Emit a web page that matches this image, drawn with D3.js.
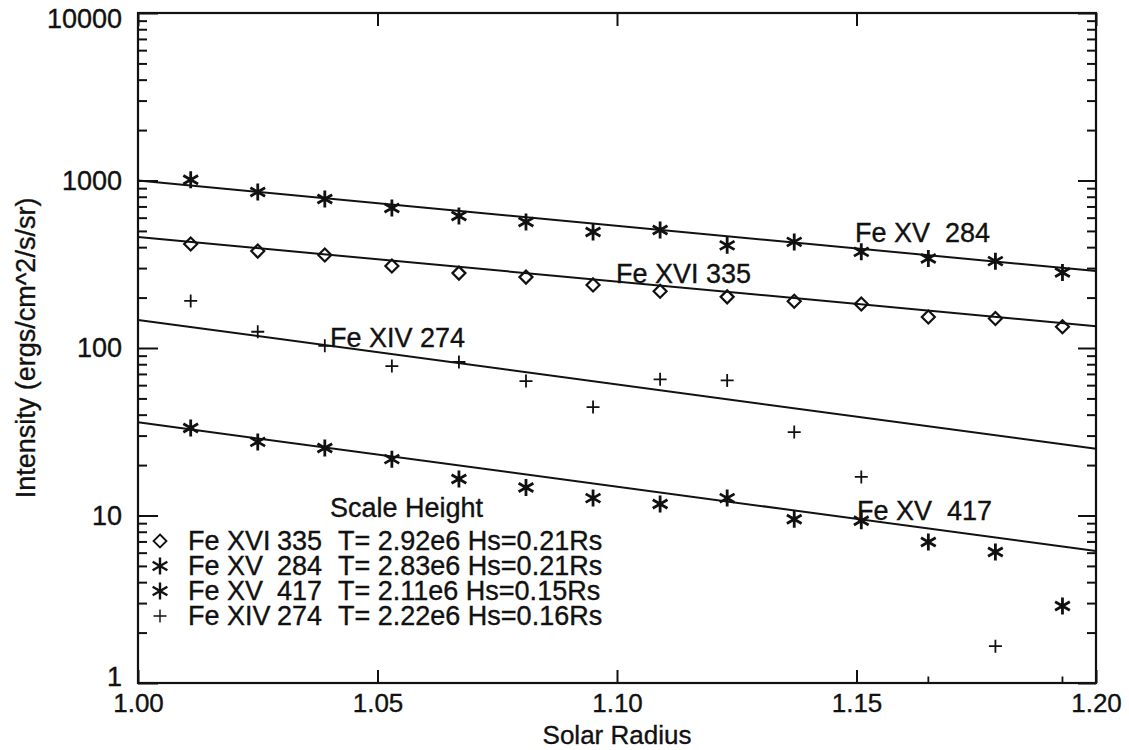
<!DOCTYPE html>
<html>
<head>
<meta charset="utf-8">
<script src="https://cdn.jsdelivr.net/npm/d3@7"></script>
<style>
  body { margin: 0; background: #fff; }
  text { font-family: "Liberation Sans", Arial, Helvetica, sans-serif; fill: #111; stroke: #111; stroke-width: 0.35; white-space: pre; }
</style>
</head>
<body>
<svg id="chart" width="1129" height="750"></svg>
<script>
// solar radius of each measurement (same for all lines)
const radius = [1.011, 1.025, 1.039, 1.053, 1.067, 1.081, 1.095, 1.109, 1.123, 1.137, 1.151, 1.165, 1.179, 1.193];

const feXVI335 = [418, 379, 359, 309, 280, 265, 238, 218, 202, 190, 183, 153, 150, 134];
const feXV284 = [1010, 854, 776, 685, 614, 565, 493, 506, 410, 430, 375, 342, 330, 282];
const feXV417 = [33.3, 27.5, 25.3, 21.7, 16.5, 14.7, 12.7, 11.7, 12.7, 9.5, 9.3, 6.95, 6.05, 2.88];
const feXIV274 = [191, 125, 103, 78, 82.5, 63.5, 44.4, 65, 64, 31.5, 17, 1.0, 1.66, 1.0];

// exponential fits, value at r = 1.00 and r = 1.20
const fitRadius = [1.00, 1.20];
const fitXVI335 = [460, 135];
const fitXV284 = [1000, 288];
const fitXV417 = [36, 6.14];
const fitXIV274 = [147, 25];

const xTicks = [1.00, 1.05, 1.10, 1.15, 1.20];
const yTicks = [1, 10, 100, 1000, 10000];

const legendNames = ["Fe XVI", "Fe XV", "Fe XV", "Fe XIV"];
const legendWaves = ["335", "284", "417", "274"];
const legendFits = ["T= 2.92e6 Hs=0.21Rs", "T= 2.83e6 Hs=0.21Rs", "T= 2.11e6 Hs=0.15Rs", "T= 2.22e6 Hs=0.16Rs"];
const legendSymbols = ["diamond", "star", "star", "plus"];

const svg = d3.select("#chart");
const margin = { left: 138, top: 13, right: 33, bottom: 67 };
const plotW = 1129 - margin.left - margin.right;
const plotH = 750 - margin.top - margin.bottom;
const fontSize = 27;

const x = d3.scaleLinear().domain([1.0, 1.2]).range([0, plotW]);
const y = d3.scaleLog().domain([1, 10000]).range([plotH, 0]);

const g = svg.append("g").attr("transform", `translate(${margin.left},${margin.top})`);

g.append("clipPath").attr("id", "plotClip")
    .append("rect").attr("width", plotW).attr("height", plotH);

function symbolPath(type) {
    if (type === "diamond") {
        return "M0,-6.5L6.5,0L0,6.5L-6.5,0Z";
    } else if (type === "plus") {
        return "M-6.5,0H6.5M0,-6.5V6.5";
    }
    // IDL-ish asterisk: vertical bar plus an X
    let r = 8.5, dx = r * Math.cos(Math.PI / 6), dy = r * Math.sin(Math.PI / 6);
    return `M0,${-r}V${r}M${-dx},${-dy}L${dx},${dy}M${-dx},${dy}L${dx},${-dy}`;
}

function symbolStroke(type) {
    if (type === "star") return 2.8;
    if (type === "diamond") return 2.2;
    return 1.8;
}

// minor log ticks
let minorTicks = [];
for (let d = 1; d < 10000; d *= 10) {
    for (let k = 2; k <= 9; k++) minorTicks.push(d * k);
}

function styleAxis(a) {
    a.select(".domain").remove();
    a.selectAll("line").attr("stroke", "#111").attr("stroke-width", 2);
    a.selectAll("text").attr("font-size", 26).attr("fill", "#111");
}

// left axis
g.append("g")
    .call(d3.axisLeft(y).tickValues(yTicks).tickSize(-20).tickPadding(16).tickFormat(d3.format("d")))
    .call(styleAxis)
    .call(a => a.selectAll("text").attr("font-size", 27))
    // end labels sit a little inside the axis, as in the original plot
    .call(a => a.selectAll("text").filter(d => d === 10000).attr("dy", "0.55em"))
    .call(a => a.selectAll("text").filter(d => d === 1).attr("dy", "0.1em"));
g.append("g")
    .call(d3.axisLeft(y).tickValues(minorTicks).tickSize(-9).tickFormat(""))
    .call(styleAxis);

// right axis
g.append("g").attr("transform", `translate(${plotW},0)`)
    .call(d3.axisRight(y).tickValues(yTicks).tickSize(-18).tickFormat(""))
    .call(styleAxis);
g.append("g").attr("transform", `translate(${plotW},0)`)
    .call(d3.axisRight(y).tickValues(minorTicks).tickSize(-9).tickFormat(""))
    .call(styleAxis);

// bottom axis
g.append("g").attr("transform", `translate(0,${plotH})`)
    .call(d3.axisBottom(x).tickValues(xTicks).tickSize(-13).tickPadding(11).tickFormat(d3.format(".2f")))
    .call(styleAxis);

// top axis
g.append("g")
    .call(d3.axisTop(x).tickValues(xTicks).tickSize(-13).tickFormat(""))
    .call(styleAxis);

// frame
g.append("rect")
    .attr("width", plotW).attr("height", plotH)
    .attr("fill", "none").attr("stroke", "#111").attr("stroke-width", 2.2);

// fit lines
const fitLine = d3.line().x(d => x(d[0])).y(d => y(d[1]));
[fitXVI335, fitXV284, fitXV417, fitXIV274].forEach(function(fit) {
    g.append("path")
        .datum(fitRadius.map((r, i) => [r, fit[i]]))
        .attr("d", fitLine)
        .attr("fill", "none")
        .attr("stroke", "#111")
        .attr("stroke-width", 2);
});

// data points
const series = [
    { values: feXVI335, symbol: "diamond" },
    { values: feXV284, symbol: "star" },
    { values: feXV417, symbol: "star" },
    { values: feXIV274, symbol: "plus" }
];
const points = g.append("g").attr("clip-path", "url(#plotClip)");
series.forEach(function(s) {
    points.selectAll(null)
        .data(radius.map((r, i) => [r, s.values[i]]))
        .enter().append("path")
        .attr("transform", d => `translate(${x(d[0])},${y(d[1])})`)
        .attr("d", symbolPath(s.symbol))
        .attr("fill", "none")
        .attr("stroke", "#111")
        .attr("stroke-width", symbolStroke(s.symbol));
});

// line annotations
const notes = [
    { text: "Fe XV  284", x: 855, y: 242 },
    { text: "Fe XVI 335", x: 616, y: 283 },
    { text: "Fe XIV 274", x: 330, y: 347 },
    { text: "Fe XV  417", x: 857, y: 520 }
];
notes.forEach(function(n) {
    svg.append("text").attr("x", n.x).attr("y", n.y).attr("font-size", fontSize).text(n.text);
});

// legend
svg.append("text").attr("x", 330).attr("y", 517).attr("font-size", fontSize).text("Scale Height");
legendNames.forEach(function(name, i) {
    let by = 550 + i * 25;
    svg.append("path")
        .attr("transform", `translate(160,${by - 9})`)
        .attr("d", symbolPath(legendSymbols[i]))
        .attr("fill", "none")
        .attr("stroke", "#111")
        .attr("stroke-width", symbolStroke(legendSymbols[i]) - 0.4);
    svg.append("text").attr("x", 188).attr("y", by).attr("font-size", fontSize).text(name);
    svg.append("text").attr("x", 277).attr("y", by).attr("font-size", fontSize).text(legendWaves[i]);
    svg.append("text").attr("x", 338).attr("y", by).attr("font-size", fontSize).text(legendFits[i]);
});

// axis titles
svg.append("text")
    .attr("x", margin.left + plotW / 2).attr("y", 744)
    .attr("text-anchor", "middle").attr("font-size", fontSize - 1)
    .text("Solar Radius");
svg.append("text")
    .attr("transform", `translate(35,${margin.top + plotH / 2}) rotate(-90)`)
    .attr("text-anchor", "middle").attr("font-size", fontSize)
    .text("Intensity (ergs/cm^2/s/sr)");
</script>
</body>
</html>
